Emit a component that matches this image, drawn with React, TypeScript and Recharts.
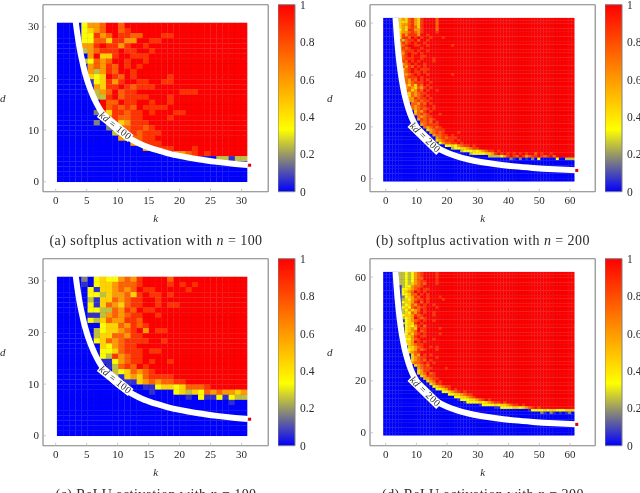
import React from "react";
import { BarChart, Bar, Scatter, ScatterChart, XAxis, YAxis } from "recharts";

// one character per cell, left to right, top row first; a short row keeps red (or blue after a 0) up to the right edge
const softplus100Rows = [
  "000046679979",
  "0000456799789",
  "00004486798877999889",
  "000044775886699889",
  "00006689886899899",
  "00003678889889989",
  "0000069558998889",
  "0000347679989989",
  "0000067687989899",
  "0000063687998999",
  "00000545987989999989",
  "00000145868998899889",
  "00000065889878889",
  "000000367978899999998889",
  "00000033897888899989",
  "00000009779889989989",
  "0000000978787988889",
  "0000002758878898999889",
  "00000001687788999989",
  "0000002068568889",
  "00000000207788789",
  "000000000378878889",
  "00000000006577889",
  "000000000000678889",
  "000000000000006788899989",
  "00000000000000000006678989",
  "0000000000000000000000000033133",
  "0",
  "0",
  "0",
  "0",
];

const relu100Rows = [
  "00002045446768999979",
  "00001045567778999989898",
  "00000415567679889999989",
  "00000443566758988989",
  "000003155767889989",
  "000004157657889989889",
  "00000443376879889",
  "000001136767889989",
  "000004357668879",
  "0000000455768789",
  "0000003455678969889",
  "0000003557768899",
  "0000004576788889989",
  "00000005467889",
  "000000044578889889",
  "000000043867889",
  "00000001146788989989",
  "00000000137879899",
  "000000000345767899",
  "000000000315657888899",
  "00000000000115676778899",
  "00000000000000114554577789",
  "0000000000000001000453547676656789",
  "0000000000000000000001041141433",
  "00000000000000000000000000001000",
  "0",
  "0",
  "0",
  "0",
  "0",
  "0",
];

const softplus200Rows = [
  "0000056578658999979",
  "0000055578658999979",
  "0000056678658999979",
  "0000056578758999979",
  "0000046588668999979",
  "0000056678768999989",
  "0000058688869989",
  "0000058879898998999899",
  "0000073788979989",
  "0000068789899899",
  "0000067899889989999999899",
  "000006878999899",
  "00000678889899899",
  "00000768988989",
  "000005789899889",
  "0000067888998999899",
  "000006879898999989",
  "000000678989989",
  "000000768798989",
  "00000057898988899",
  "000000678988989",
  "0000006678989989999999899",
  "00000077888989",
  "0000005768798989",
  "00000007678889989",
  "0000000657587989",
  "00000006765768989",
  "000000077568798998",
  "000000065767889",
  "0000000057678989",
  "000000006687889899",
  "00000000667878899",
  "00000000077687989",
  "000000000767889989",
  "0000000007678789899",
  "00000000005768989",
  "000000000067878999899",
  "00000000000767889",
  "000000000006878789",
  "0000000000007787989",
  "00000000000067888899",
  "00000000000007678789",
  "000000000000005678889",
  "00000000000000067878999989",
  "000000000000000067788989",
  "0000000000000000067878889",
  "000000000000000005678889899",
  "000000000000000000467788989",
  "00000000000000000000445467889899",
  "00000000000000000000003445567889",
  "000000000000000000000000034445456788989",
  "0000000000000000000000000000344445568989898989899798998",
  "000000000000000000000000000000000033334689879867889878979",
  "00000000000000000000000000000000000000000210201020400000400333",
  "0",
  "0",
  "0",
  "0",
  "0",
  "0",
  "0",
  "0",
];

const relu200Rows = [
  "0000033434678999989",
  "0000033434678999989",
  "0000033434677999989",
  "0000033434678899989",
  "0000033435678799989",
  "0000013446778999",
  "0000014456789889",
  "0000014567989899",
  "0000014457798989",
  "0000012456879989998",
  "0000013546788989999899",
  "000001455689798",
  "000000345768989989",
  "00000045478788999899",
  "000000346567989",
  "00000135476898998",
  "00000145568789998",
  "000001345698789",
  "000000145678989989",
  "000000345589899",
  "000000045468979",
  "00000014565988999989",
  "000000045679789",
  "0000000465789899998",
  "000000055689889",
  "000000044678999989",
  "000000055698989",
  "0000000456788999",
  "0000000055678998989",
  "00000000456878999899",
  "00000000567899",
  "00000000057698989",
  "00000000056788999899",
  "00000000056787989",
  "000000000677898989",
  "00000000005678799",
  "0000000000067888999989",
  "00000000000568899",
  "000000000005679789",
  "00000000000056888999",
  "00000000000006678899",
  "00000000000000567989",
  "0000000000000005688999",
  "00000000000000004567889",
  "00000000000000000445689899",
  "0000000000000000000445678989",
  "000000000000000000000445567889",
  "00000000000000000000000445567899",
  "000000000000000000000000144455678989",
  "00000000000000000000000000144445456788989",
  "00000000000000000000000000000001444454556788989",
  "0000000000000000000000000000000000001144445545678989",
  "00000000000000000000000000000000000000000000000144445455444555",
  "00000000000000000000000000000000000000000000000000021021010120",
  "0",
  "0",
  "0",
  "0",
  "0",
  "0",
  "0",
  "0",
];

const levelValues = [0, 0.06, 0.17, 0.25, 0.33, 0.45, 0.6, 0.75, 0.87, 1];

const band100K = [3.23, 3.4, 3.6, 3.8, 4, 4.3, 4.6, 5, 5.5, 6, 6.5, 7, 8, 9, 10, 11, 12.5, 14, 16, 18, 20, 23, 26, 29, 31];
const band100D = [31, 29.4, 27.8, 26.3, 25, 23.3, 21.7, 20, 18.2, 16.7, 15.4, 14.3, 12.5, 11.1, 10, 9.1, 8, 7.1, 6.25, 5.56, 5, 4.35, 3.85, 3.45, 3.23];
const band200K = [3.23, 3.5, 3.8, 4.2, 4.6, 5, 5.5, 6, 6.7, 7.5, 8.5, 10, 11.5, 13, 15, 17, 20, 23, 27, 31, 36, 42, 48, 55, 62];
const band200D = [62, 57.1, 52.6, 47.6, 43.5, 40, 36.4, 33.3, 29.9, 26.7, 23.5, 20, 17.4, 15.4, 13.3, 11.8, 10, 8.7, 7.4, 6.45, 5.56, 4.76, 4.17, 3.64, 3.23];

const ticks100X = [0, 5, 10, 15, 20, 25, 30];
const ticks100Y = [0, 10, 20, 30];
const ticks200 = [0, 10, 20, 30, 40, 50, 60];
const ticks200Y = [0, 20, 40, 60];
const colorbarTicks = [0, 0.2, 0.4, 0.6, 0.8, 1];

const FONT = "'Liberation Serif', serif";
const GRAY = "#808080";
const TEXT = "#2a2a2a";
const PLOT_W = 225.2;
const PLOT_H = 187;

// same stops as the colour bar: blue, yellow, orange, red
function heatColor(v: number) {
  const stops = [[0, 0, 255], [255, 255, 0], [255, 128, 0], [255, 0, 0]];
  const t = Math.min(v * 3, 2.999);
  const i = Math.floor(t);
  const f = t - i;
  const mix = stops[i].map((c, n) => Math.round(c + (stops[i + 1][n] - c) * f));
  return `rgb(${mix[0]},${mix[1]},${mix[2]})`;
}

function buildCells(rows: string[], kStart: number, kStep: number, dTop: number, dStep: number) {
  const cols = rows.length;
  const cells: { k: number; d: number; v: number }[] = [];
  rows.forEach((row, r) => {
    const fill = row[row.length - 1] === "0" ? "0" : "9";
    const full = row.padEnd(cols, fill).slice(0, cols);
    for (let c = 0; c < cols; c++) {
      cells.push({
        k: kStart + kStep * (c + 0.5),
        d: dTop - dStep * (r + 0.5),
        v: levelValues[Number(full[c])],
      });
    }
  });
  return cells;
}

function pairs(ks: number[], ds: number[]) {
  return ks.map((k, i) => ({ k, d: ds[i] }));
}

function BottomTick(props: any) {
  const { x, y, payload } = props;
  return (
    <g>
      <line x1={x} x2={x} y1={y} y2={y - 3} stroke="#bbb" strokeWidth={0.8} />
      <text x={x} y={y + 12.5} textAnchor="middle" fontSize={11} fontFamily={FONT} fill={TEXT}>
        {payload.value}
      </text>
    </g>
  );
}

function LeftTick(props: any) {
  const { x, y, payload } = props;
  return (
    <g>
      <line x1={x} x2={x + 3} y1={y} y2={y} stroke="#bbb" strokeWidth={0.8} />
      <text x={x - 4} y={y + 3.5} textAnchor="end" fontSize={11} fontFamily={FONT} fill={TEXT}>
        {payload.value}
      </text>
    </g>
  );
}

function TopTick(props: any) {
  const { x, y } = props;
  return <line x1={x} x2={x} y1={y} y2={y + 3} stroke="#bbb" strokeWidth={0.8} />;
}

function RightTick(props: any) {
  const { x, y } = props;
  return <line x1={x} x2={x - 3} y1={y} y2={y} stroke="#bbb" strokeWidth={0.8} />;
}

function Colorbar({ left, top, id }: { left: number; top: number; id: string }) {
  return (
    <div style={{ position: "absolute", left, top }}>
      <BarChart
        width={58}
        height={200}
        data={[{ name: "c", value: 1 }]}
        margin={{ top: 4.7, right: 0, bottom: 8.3, left: 0 }}
        barCategoryGap={0}
      >
        <defs>
          <linearGradient id={id} x1="0" y1="1" x2="0" y2="0">
            {[0, 1 / 3, 2 / 3, 1].map((o) => (
              <stop key={o} offset={o} stopColor={heatColor(o)} />
            ))}
          </linearGradient>
        </defs>
        <XAxis dataKey="name" hide />
        <YAxis
          orientation="right"
          type="number"
          domain={[0, 1]}
          ticks={colorbarTicks}
          interval={0}
          width={41}
          axisLine={false}
          tickLine={false}
          tickSize={0}
          tickMargin={5}
          tick={{ fontSize: 11.5, fontFamily: FONT, fill: TEXT }}
        />
        <Bar dataKey="value" fill={`url(#${id})`} stroke={GRAY} strokeWidth={1} isAnimationActive={false} />
      </BarChart>
    </div>
  );
}

type PanelProps = {
  left: number;
  top: number;
  rows: string[];
  kStart: number;
  kStep: number;
  dTop: number;
  dStep: number;
  xDomain: number[];
  yDomain: number[];
  xTicks: number[];
  yTicks: number[];
  bandK: number[];
  bandD: number[];
  dotK: number;
  labelAt: { k: number; d: number };
  labelAngle: number;
  caption: string;
  n: string;
  id: string;
};

function Panel(p: PanelProps) {
  const cells = buildCells(p.rows, p.kStart, p.kStep, p.dTop, p.dStep);
  const cellW = (p.kStep * PLOT_W) / (p.xDomain[1] - p.xDomain[0]);
  const cellH = (p.dStep * PLOT_H) / (p.yDomain[1] - p.yDomain[0]);

  const cellShape = (s: any) => (
    <rect
      x={s.cx - cellW / 2}
      y={s.cy - cellH / 2}
      width={cellW + 0.2}
      height={cellH + 0.2}
      fill={heatColor(s.payload.v)}
      stroke="rgba(0,0,0,0.09)"
      strokeWidth={0.4}
    />
  );
  const noShape = () => <g />;
  const dotShape = (s: any) => <rect x={s.cx - 1.5} y={s.cy - 1.5} width={3} height={3} fill="#e00000" />;
  const labelShape = (s: any) => (
    <g transform={`rotate(${p.labelAngle} ${s.cx} ${s.cy})`}>
      <rect x={s.cx - 20} y={s.cy - 4.5} width={40} height={9} fill="#fff" />
      <text x={s.cx} y={s.cy + 3} textAnchor="middle" fontSize={10} letterSpacing={0.4} fontFamily={FONT} fill={TEXT}>
        <tspan fontStyle="italic">kd</tspan> = {p.n}
      </text>
    </g>
  );

  return (
    <div style={{ position: "absolute", left: p.left, top: p.top, width: 313, height: 245 }}>
      <ScatterChart width={278} height={238} margin={{ top: 3.7, right: 8.8, bottom: 0, left: 0 }}>
        <XAxis
          xAxisId="main"
          dataKey="k"
          type="number"
          domain={p.xDomain}
          ticks={p.xTicks}
          interval={0}
          height={46.3}
          stroke={GRAY}
          strokeWidth={1.1}
          tickLine={false}
          tickSize={0}
          tickMargin={0}
          tick={<BottomTick />}
          label={{ value: "k", position: "insideBottom", offset: 16, fontSize: 11, fontStyle: "italic", fontFamily: FONT, fill: TEXT }}
        />
        <XAxis
          xAxisId="top"
          orientation="top"
          type="number"
          domain={p.xDomain}
          ticks={p.xTicks}
          interval={0}
          height={1}
          stroke={GRAY}
          strokeWidth={1.1}
          tickLine={false}
          tickSize={0}
          tickMargin={0}
          tick={<TopTick />}
        />
        <YAxis
          yAxisId="main"
          dataKey="d"
          type="number"
          domain={p.yDomain}
          ticks={p.yTicks}
          interval={0}
          width={43}
          stroke={GRAY}
          strokeWidth={1.1}
          tickLine={false}
          tickSize={0}
          tickMargin={0}
          tick={<LeftTick />}
          label={{ value: "d", position: "insideLeft", offset: 0, fontSize: 11, fontStyle: "italic", fontFamily: FONT, fill: TEXT }}
        />
        <YAxis
          yAxisId="right"
          orientation="right"
          type="number"
          domain={p.yDomain}
          ticks={p.yTicks}
          interval={0}
          width={1}
          stroke={GRAY}
          strokeWidth={1.1}
          tickLine={false}
          tickSize={0}
          tickMargin={0}
          tick={<RightTick />}
        />
        <Scatter xAxisId="main" yAxisId="main" data={cells} shape={cellShape} isAnimationActive={false} />
        <Scatter
          xAxisId="main"
          yAxisId="main"
          data={pairs(p.bandK, p.bandD)}
          shape={noShape}
          line={{ stroke: "#fff", strokeWidth: 6 }}
          lineJointType="monotone"
          isAnimationActive={false}
        />
        <Scatter xAxisId="main" yAxisId="main" data={[{ k: p.dotK, d: 3.2 }]} shape={dotShape} isAnimationActive={false} />
        <Scatter xAxisId="main" yAxisId="main" data={[p.labelAt]} shape={labelShape} isAnimationActive={false} />
      </ScatterChart>
      <div
        style={{
          position: "absolute",
          left: 0,
          width: 312,
          top: 232.5,
          textAlign: "center",
          fontFamily: FONT,
          fontSize: 14,
          letterSpacing: 0.45,
          color: TEXT,
          whiteSpace: "nowrap",
        }}
      >
        {p.caption} with <i>n</i> = {p.n}
      </div>
      <Colorbar left={278} top={0} id={p.id} />
    </div>
  );
}

const small = {
  kStart: 0.2,
  kStep: 0.99,
  dTop: 30.8,
  dStep: 0.994,
  xDomain: [-2.05, 34.3],
  yDomain: [-1.93, 34.3],
  xTicks: ticks100X,
  yTicks: ticks100Y,
  bandK: band100K,
  bandD: band100D,
  dotK: 31.3,
  labelAt: { k: 9.6, d: 10.8 },
  labelAngle: 39,
  n: "100",
};

const large = {
  kStart: -0.8,
  kStep: 1.003,
  dTop: 62,
  dStep: 1.016,
  xDomain: [-5.1, 68.2],
  yDomain: [-5, 67.1],
  xTicks: ticks200,
  yTicks: ticks200Y,
  bandK: band200K,
  bandD: band200D,
  dotK: 62.2,
  labelAt: { k: 12.8, d: 15.8 },
  labelAngle: 44,
  n: "200",
};

export default function App() {
  return (
    <div style={{ position: "absolute", left: 0, top: 0, width: 640, height: 493, overflow: "hidden", background: "#fff", filter: "blur(0.35px)" }}>
      <Panel {...small} left={0} top={0} rows={softplus100Rows} caption="(a) softplus activation" id="barA" />
      <Panel {...large} left={327} top={0} rows={softplus200Rows} caption="(b) softplus activation" id="barB" />
      <Panel {...small} left={0} top={254.3} rows={relu100Rows} caption="(c) ReLU activation" id="barC" />
      <Panel {...large} left={327} top={254.3} rows={relu200Rows} caption="(d) ReLU activation" id="barD" />
    </div>
  );
}
